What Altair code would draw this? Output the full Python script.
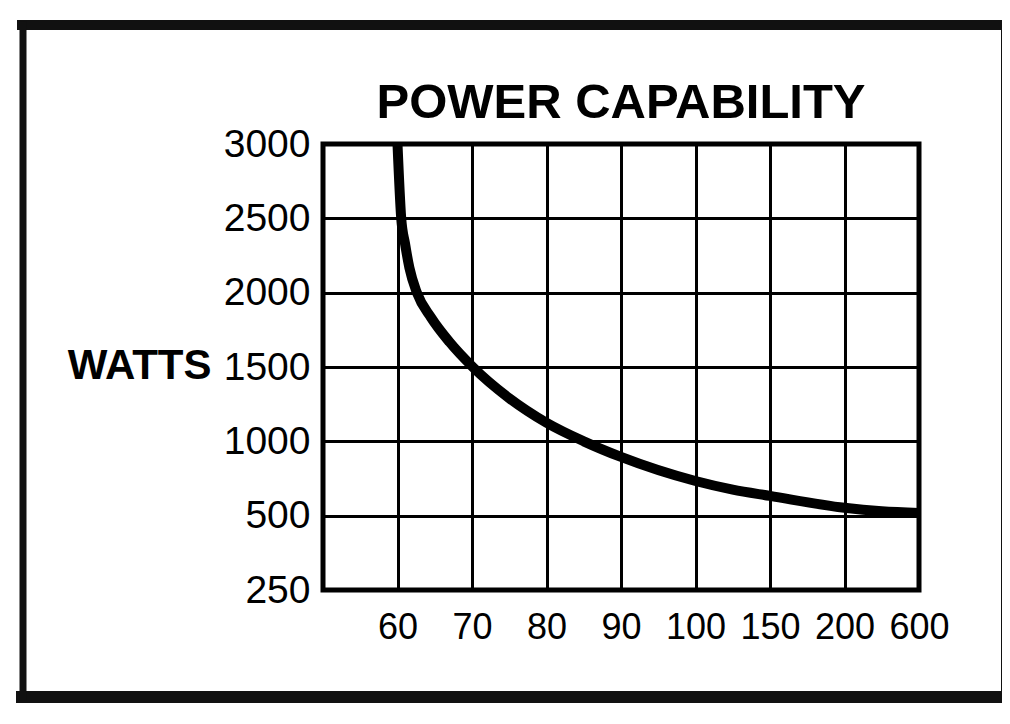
import altair as alt
import pandas as pd

# ---- data ----
freq_hz = [60, 60.5, 61.0, 61.6, 62.6, 64.5, 67.0, 70.1, 75, 80, 85, 90, 100, 125, 150, 200, 400, 600]
watts = [3000, 2500, 2333, 2167, 2000, 1833, 1667, 1500, 1290, 1125, 1000, 895, 733, 675, 633, 553, 530, 518]
x_ticks = [60, 70, 80, 90, 100, 150, 200, 600]
x_left_edge = 50  # unlabeled left edge of the grid
y_ticks = [250, 500, 1000, 1500, 2000, 2500, 3000]
title_text = "POWER CAPABILITY"
y_title = "WATTS"

# ---- layout ----
W, H = 596, 446
PLOT_LEFT, PLOT_TOP = 323, 144  # page position of plot area
FONT = "Liberation Sans, Arial, Helvetica, sans-serif"

x_domain = [x_left_edge] + x_ticks
x_range = [W * i / (len(x_domain) - 1) for i in range(len(x_domain))]
y_range = [H - H * i / (len(y_ticks) - 1) for i in range(len(y_ticks))]

df = pd.DataFrame({"hz": freq_hz, "watts": watts})

curve = alt.Chart(df).mark_line(
    color="black", strokeWidth=10, interpolate="monotone", strokeCap="butt"
).encode(
    x=alt.X(
        "hz:Q",
        scale=alt.Scale(type="linear", domain=x_domain, range=x_range, nice=False, zero=False),
        axis=alt.Axis(
            values=x_ticks, title="", format="d", grid=True, gridColor="black",
            gridWidth=3, gridOpacity=1, domain=False, ticks=False,
            labelFont=FONT, labelFontSize=36, labelColor="black",
            labelPadding=20, labelOverlap=False, labelFlush=False,
        ),
    ),
    y=alt.Y(
        "watts:Q",
        scale=alt.Scale(type="linear", domain=y_ticks, range=y_range, nice=False, zero=False),
        axis=alt.Axis(
            values=y_ticks, format="d", grid=True, gridColor="black",
            gridWidth=3, gridOpacity=1, domain=False, ticks=False,
            labelFont=FONT, labelFontSize=39, labelColor="black", labelPadding=13,
            labelOverlap=False, labelFlush=False, labelBaseline="middle",
            title=y_title, titleAngle=0, titleX=-112, titleY=H / 2 - 2,
            titleAlign="right", titleBaseline="middle", titleFont=FONT,
            titleFontSize=42, titleFontWeight="bold", titleColor="black",
        ),
    ),
)

# ---- page helpers (page pixel -> plot pixel) ----
src = pd.DataFrame({"k": [0]})
def px(v):
    return v - PLOT_LEFT
def py(v):
    return v - PLOT_TOP

title = alt.Chart(src).mark_text(
    text=title_text, font=FONT, fontSize=49, fontWeight="bold", color="black",
    align="center", baseline="alphabetic",
).encode(x=alt.value(W / 2), y=alt.value(py(118)))

def rule(x1, y1, x2, y2, w):
    return alt.Chart(src).mark_rule(color="#111111", strokeWidth=w, strokeCap="square").encode(
        x=alt.value(px(x1)), y=alt.value(py(y1)), x2=alt.value(px(x2)), y2=alt.value(py(y2))
    )

frame = (
    rule(22, 25, 1010, 25, 10)
    + rule(22, 697, 1010, 697, 12)
    + rule(23, 25, 23, 697, 7)
    + rule(1004, 25, 1004, 697, 6)
)

chart = alt.layer(curve, title, frame).properties(
    width=W,
    height=H,
    autosize=alt.AutoSizeParams(type="none"),
    padding={"left": PLOT_LEFT - 8, "top": PLOT_TOP - 8,
             "right": 994 - (PLOT_LEFT - 8) - W, "bottom": 700 - (PLOT_TOP - 8) - H},
    background="white",
).configure_view(stroke="black", strokeWidth=5)

chart.save("out.html", embed_options={"renderer": "svg", "actions": False})
